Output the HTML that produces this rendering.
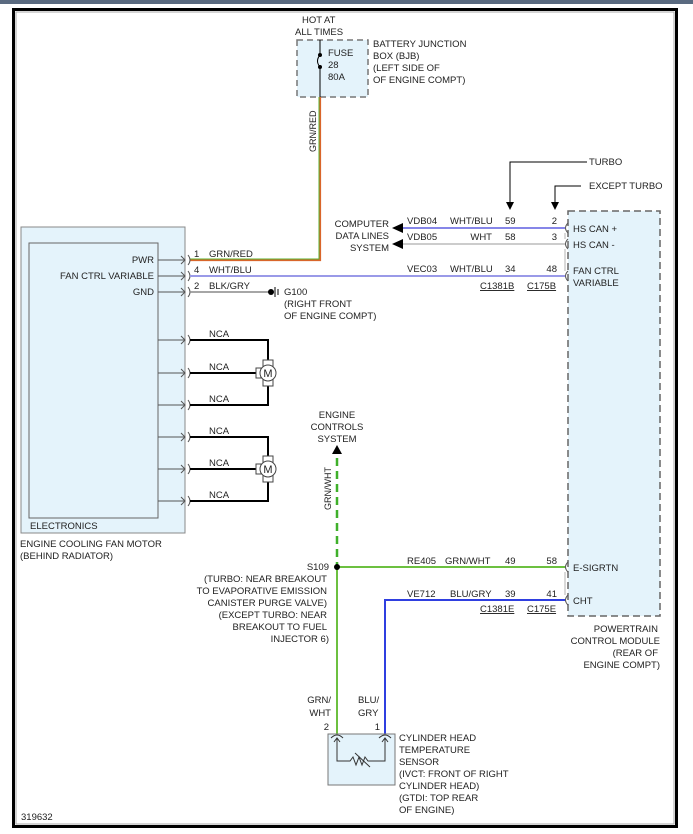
<!DOCTYPE html>
<html><head><meta charset="utf-8"><style>
html,body{margin:0;padding:0;background:#fff;}
svg{display:block;font-family:"Liberation Sans",Arial,sans-serif;font-size:9.5px;fill:#222;}
text{fill:#222;}
</style></head><body>
<svg width="693" height="834" viewBox="0 0 693 834" xmlns="http://www.w3.org/2000/svg">
<rect x="0" y="0" width="693" height="4" fill="#5a6a80"/>
<rect x="13.5" y="9.5" width="663" height="817" fill="none" stroke="#000" stroke-width="3"/>
<rect x="16" y="12" width="658" height="812" fill="none" stroke="#aaa" stroke-width="1"/>

<!-- fuse box -->
<rect x="297" y="40" width="71" height="57" fill="#e4f3fb" stroke="#777" stroke-width="1.5" stroke-dasharray="6,4"/>
<line x1="320" y1="40" x2="320" y2="55" stroke="#000"/>
<path d="M320 55 q-5 6 0 12" fill="none" stroke="#000"/>
<line x1="320" y1="67" x2="320" y2="97" stroke="#000"/>
<circle cx="320" cy="55" r="2" fill="#000"/><circle cx="320" cy="67" r="2" fill="#000"/>
<text x="302" y="23">HOT AT</text><text x="295" y="35">ALL TIMES</text>
<text x="328" y="56">FUSE</text><text x="328" y="68">28</text><text x="328" y="80">80A</text>
<text x="373" y="47">BATTERY JUNCTION</text><text x="373" y="59">BOX (BJB)</text><text x="373" y="71">(LEFT SIDE OF</text><text x="373" y="83">OF ENGINE COMPT)</text>

<!-- GRN/RED wire -->
<polyline points="190,260 320,260 320,97" fill="none" stroke="#d9652a" stroke-width="2.2"/>
<polyline points="190,259 319,259 319,97" fill="none" stroke="#5bb030" stroke-width="1"/>
<text x="316" y="152" transform="rotate(-90 316 152)" font-size="9">GRN/RED</text>

<!-- fan motor module -->
<rect x="21" y="227" width="164" height="306" fill="#e4f3fb" stroke="#888" stroke-width="1"/>
<rect x="29" y="243" width="129" height="275" fill="#e4f3fb" stroke="#666" stroke-width="1"/>
<text x="30" y="529">ELECTRONICS</text>
<text x="20" y="547">ENGINE COOLING FAN MOTOR</text>
<text x="20" y="559">(BEHIND RADIATOR)</text>
<text x="154" y="263" text-anchor="end">PWR</text>
<text x="154" y="279" text-anchor="end">FAN CTRL VARIABLE</text>
<text x="154" y="295" text-anchor="end">GND</text>
<g stroke="#555" fill="none" stroke-width="1">
<line x1="158" y1="260" x2="185" y2="260"/><line x1="158" y1="276" x2="185" y2="276"/><line x1="158" y1="292" x2="185" y2="292"/>
<line x1="158" y1="340" x2="185" y2="340"/><line x1="158" y1="373" x2="185" y2="373"/><line x1="158" y1="405" x2="185" y2="405"/>
<line x1="158" y1="437" x2="185" y2="437"/><line x1="158" y1="469" x2="185" y2="469"/><line x1="158" y1="501" x2="185" y2="501"/>
</g>
<g stroke="#555" fill="none" stroke-width="1">
<path d="M181 256 l4 4 -4 4 M188 255 q4 5 0 10"/><path d="M181 272 l4 4 -4 4 M188 271 q4 5 0 10"/><path d="M181 288 l4 4 -4 4 M188 287 q4 5 0 10"/>
<path d="M181 336 l4 4 -4 4 M188 335 q4 5 0 10"/><path d="M181 369 l4 4 -4 4 M188 368 q4 5 0 10"/><path d="M181 401 l4 4 -4 4 M188 400 q4 5 0 10"/>
<path d="M181 433 l4 4 -4 4 M188 432 q4 5 0 10"/><path d="M181 465 l4 4 -4 4 M188 464 q4 5 0 10"/><path d="M181 497 l4 4 -4 4 M188 496 q4 5 0 10"/>
</g>
<text x="194" y="257">1</text><text x="209" y="257">GRN/RED</text>
<text x="194" y="273">4</text><text x="209" y="273">WHT/BLU</text>
<text x="194" y="289">2</text><text x="209" y="289">BLK/GRY</text>

<!-- WHT/BLU -->
<line x1="190" y1="276" x2="565" y2="276" stroke="#9a9ae8" stroke-width="2"/>
<!-- GND -->
<line x1="190" y1="292" x2="270" y2="292" stroke="#888" stroke-width="1.5"/>
<circle cx="271" cy="292" r="3" fill="#000"/>
<line x1="275" y1="287" x2="275" y2="297" stroke="#000"/><line x1="278" y1="289" x2="278" y2="295" stroke="#000"/>
<text x="284" y="295">G100</text><text x="284" y="307">(RIGHT FRONT</text><text x="284" y="319">OF ENGINE COMPT)</text>

<!-- motors -->
<g stroke="#000" stroke-width="2" fill="none">
<polyline points="190,340 268,340 268,405 190,405"/><line x1="190" y1="373" x2="258" y2="373"/>
<polyline points="190,437 268,437 268,501 190,501"/><line x1="190" y1="469" x2="258" y2="469"/>
</g>
<g stroke="#444" stroke-width="1" fill="#fff">
<rect x="263" y="360" width="10" height="26"/><rect x="256" y="368" width="5" height="10"/><circle cx="268" cy="373" r="8"/>
<rect x="263" y="456" width="10" height="26"/><rect x="256" y="464" width="5" height="10"/><circle cx="268" cy="469" r="8"/>
</g>
<text x="268" y="377" text-anchor="middle" font-size="11">M</text>
<text x="268" y="473" text-anchor="middle" font-size="11">M</text>
<text x="209" y="337">NCA</text><text x="209" y="370">NCA</text><text x="209" y="402">NCA</text>
<text x="209" y="434">NCA</text><text x="209" y="466">NCA</text><text x="209" y="498">NCA</text>

<!-- PCM -->
<rect x="568" y="211" width="92" height="405" fill="#e4f3fb" stroke="#666" stroke-width="1.5" stroke-dasharray="7,4"/>
<text x="573" y="232">HS CAN +</text><text x="573" y="248">HS CAN -</text>
<text x="573" y="274">FAN CTRL</text><text x="573" y="286">VARIABLE</text>
<text x="573" y="571">E-SIGRTN</text><text x="573" y="604">CHT</text>
<text x="658" y="632" text-anchor="end">POWERTRAIN</text><text x="660" y="644" text-anchor="end">CONTROL MODULE</text>
<text x="658" y="656" text-anchor="end">(REAR OF</text><text x="660" y="668" text-anchor="end">ENGINE COMPT)</text>
<g stroke="#555" fill="none"><path d="M568 223 q-5 5 0 10"/><path d="M568 239 q-5 5 0 10"/><path d="M568 271 q-5 5 0 10"/><path d="M568 562 q-5 5 0 10"/><path d="M568 595 q-5 5 0 10"/></g>
<g stroke="#ccc" stroke-width="1.5"><line x1="565" y1="233" x2="565" y2="239"/><line x1="565" y1="249" x2="565" y2="271"/><line x1="565" y1="572" x2="565" y2="595"/></g>

<!-- CAN wires -->
<line x1="402" y1="228" x2="565" y2="228" stroke="#5f5fe0" stroke-width="1.5"/>
<line x1="402" y1="244" x2="565" y2="244" stroke="#ccc" stroke-width="2"/>
<polygon points="392,228 403,223 403,233" fill="#000"/>
<polygon points="392,244 403,239 403,249" fill="#000"/>
<text x="389" y="227" text-anchor="end">COMPUTER</text><text x="389" y="239" text-anchor="end">DATA LINES</text><text x="389" y="251" text-anchor="end">SYSTEM</text>
<text x="407" y="224">VDB04</text><text x="450" y="224">WHT/BLU</text><text x="505" y="224">59</text><text x="557" y="224" text-anchor="end">2</text>
<text x="407" y="240">VDB05</text><text x="492" y="240" text-anchor="end">WHT</text><text x="505" y="240">58</text><text x="557" y="240" text-anchor="end">3</text>
<text x="407" y="272">VEC03</text><text x="450" y="272">WHT/BLU</text><text x="505" y="272">34</text><text x="557" y="272" text-anchor="end">48</text>
<text x="480" y="289" text-decoration="underline">C1381B</text><text x="527" y="289" text-decoration="underline">C175B</text>
<!-- turbo pointers -->
<polyline points="587,162 510,162 510,203" fill="none" stroke="#000"/><polygon points="506,202 514,202 510,210" fill="#000"/>
<polyline points="581,186 555,186 555,203" fill="none" stroke="#000"/><polygon points="551,202 559,202 555,210" fill="#000"/>
<text x="589" y="165">TURBO</text><text x="589" y="189">EXCEPT TURBO</text>

<!-- engine controls -->
<text x="337" y="418" text-anchor="middle">ENGINE</text><text x="337" y="430" text-anchor="middle">CONTROLS</text><text x="337" y="442" text-anchor="middle">SYSTEM</text>
<polygon points="337,445 332,454 342,454" fill="#000"/>
<line x1="337" y1="458" x2="337" y2="567" stroke="#3fb02a" stroke-width="2.5" stroke-dasharray="8,5"/>
<text x="331" y="510" transform="rotate(-90 331 510)" font-size="9">GRN/WHT</text>
<line x1="337" y1="567" x2="565" y2="567" stroke="#6cc040" stroke-width="2"/>
<line x1="337" y1="567" x2="337" y2="735" stroke="#6cc040" stroke-width="2"/>
<circle cx="337" cy="567" r="3" fill="#000"/>
<polyline points="565,600 385,600 385,735" fill="none" stroke="#2f3fe0" stroke-width="2"/>
<text x="329" y="570" text-anchor="end">S109</text>
<text x="327" y="582" text-anchor="end">(TURBO: NEAR BREAKOUT</text>
<text x="327" y="594" text-anchor="end">TO EVAPORATIVE EMISSION</text>
<text x="327" y="606" text-anchor="end">CANISTER PURGE VALVE)</text>
<text x="327" y="618" text-anchor="end">(EXCEPT TURBO: NEAR</text>
<text x="327" y="630" text-anchor="end">BREAKOUT TO FUEL</text>
<text x="329" y="642" text-anchor="end">INJECTOR 6)</text>
<text x="407" y="564">RE405</text><text x="445" y="564">GRN/WHT</text><text x="505" y="564">49</text><text x="557" y="564" text-anchor="end">58</text>
<text x="407" y="597">VE712</text><text x="450" y="597">BLU/GRY</text><text x="505" y="597">39</text><text x="557" y="597" text-anchor="end">41</text>
<text x="480" y="612" text-decoration="underline">C1381E</text><text x="527" y="612" text-decoration="underline">C175E</text>

<!-- sensor -->
<text x="331" y="703" text-anchor="end">GRN/</text><text x="331" y="716" text-anchor="end">WHT</text>
<text x="358" y="703">BLU/</text><text x="358" y="716">GRY</text>
<text x="329" y="730" text-anchor="end">2</text><text x="380" y="730" text-anchor="end">1</text>
<rect x="328" y="734" width="67" height="51" fill="#e4f3fb" stroke="#777"/>
<g stroke="#333" fill="none" stroke-width="1">
<path d="M331 738 q6 -6 12 0"/><path d="M379 738 q6 -6 12 0"/>
<polyline points="337,738 337,761 350,761 353,757 356,765 359,757 362,765 365,757 368,761 385,761 385,738"/>
<line x1="355" y1="753" x2="370" y2="767"/>
<path d="M334 742 l3 -4 3 4 M382 742 l3 -4 3 4"/>
</g>
<text x="399" y="741">CYLINDER HEAD</text><text x="399" y="753">TEMPERATURE</text><text x="399" y="765">SENSOR</text>
<text x="399" y="777">(IVCT: FRONT OF RIGHT</text><text x="399" y="789">CYLINDER HEAD)</text>
<text x="399" y="801">(GTDI: TOP REAR</text><text x="399" y="813">OF ENGINE)</text>
<text x="21" y="820">319632</text>
</svg>
</body></html>
